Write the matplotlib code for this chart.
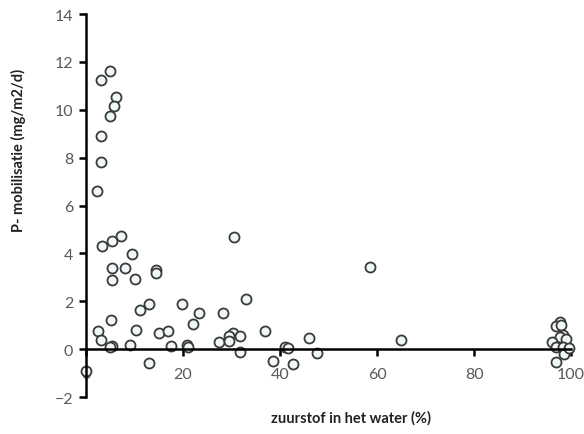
import matplotlib
matplotlib.use("Agg")
import matplotlib.pyplot as plt

# zuurstof in het water (%)
oxygen = [3.1, 5.0, 6.2, 5.7, 4.95, 3.2, 3.2, 2.4,
          3.4, 5.3, 7.3, 9.6, 5.3, 8.0, 14.5, 14.5, 5.4, 10.2,
          30.5, 33.1, 13.1, 19.8, 11.1, 28.2, 23.4, 22.1, 5.2,
          2.6, 10.4, 15.0, 17.0, 3.2, 30.3, 29.6, 31.8, 36.9,
          27.5, 29.4, 5.4, 5.0, 9.0, 17.6, 20.8, 21.1, 31.8,
          13.1, 38.5, 0.0,
          58.6, 46.0, 64.9, 41.0, 41.7, 47.6, 42.6,
          97.7, 96.9, 97.9, 98.4, 97.6, 99.0, 96.0, 96.9, 98.4,
          98.6, 96.9, 99.6]
# P-mobilisatie (mg/m2/d)
pmob = [11.25, 11.6, 10.55, 10.15, 9.74, 8.9, 7.83, 6.6,
        4.3, 4.53, 4.74, 3.97, 3.38, 3.38, 3.3, 3.18, 2.87, 2.92,
        4.68, 2.1, 1.87, 1.87, 1.64, 1.53, 1.53, 1.06, 1.21,
        0.75, 0.81, 0.68, 0.74, 0.39, 0.68, 0.54, 0.56, 0.75,
        0.28, 0.32, 0.13, 0.1, 0.18, 0.14, 0.18, 0.1, -0.13,
        -0.58, -0.49, -0.93,
        3.43, 0.45, 0.39, 0.1, 0.04, -0.17, -0.63,
        1.12, 0.95, 0.99, 0.6, 0.49, 0.43, 0.28, 0.1, 0.07,
        -0.2, -0.54, 0.05]

x_ticks = [0, 20, 40, 60, 80, 100]
y_ticks = [-2, 0, 2, 4, 6, 8, 10, 12, 14]

plt.rcParams['font.family'] = ['Lato', 'DejaVu Sans']

fig = plt.figure(figsize=(5.84, 4.35), dpi=100)
ax = fig.add_axes([0.147, 0.085, 0.831, 0.8805])

ax.scatter(oxygen, pmob, s=52, facecolor='#f0f8fa', edgecolor='#3a3a3a',
           linewidths=1.3, zorder=2, clip_on=False)

ax.set_xlim(0, 100)
ax.set_ylim(-2, 14)
ax.set_xticks(x_ticks)
ax.set_yticks(y_ticks)

for s in ['top', 'right']:
    ax.spines[s].set_visible(False)
ax.spines['bottom'].set_position(('data', 0))
ax.spines['left'].set_linewidth(1.8)
ax.spines['bottom'].set_linewidth(1.8)
ax.spines['left'].set_zorder(3)
ax.spines['bottom'].set_zorder(3)

ax.tick_params(axis='both', direction='out', length=5, width=1.8,
               labelsize=11.5, labelcolor='#595959', color='black')
ax.tick_params(axis='x', pad=8)
ax.tick_params(axis='y', pad=4)

fig.text(0.601, 0.039, 'zuurstof in het water (%)', ha='center', va='center',
         fontsize=10.5, fontweight='bold', color='#222222')
fig.text(0.031, 0.655, 'P- mobilisatie (mg/m2/d)', ha='center', va='center',
         rotation=90, fontsize=10.5, fontweight='bold', color='#222222')

fig.savefig('out.png', dpi=100)
